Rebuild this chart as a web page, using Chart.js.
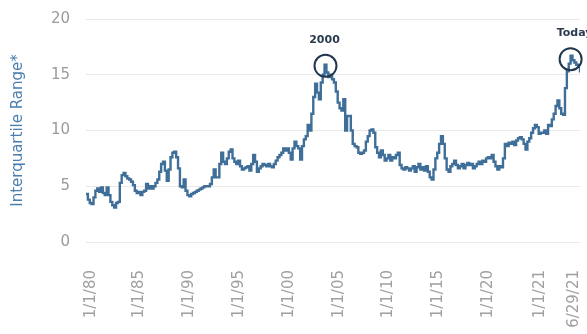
<!DOCTYPE html>
<html><head><meta charset="utf-8">
<script src="https://cdn.jsdelivr.net/npm/chart.js@4.4.1/dist/chart.umd.min.js"></script>
<style>html,body{margin:0;padding:0;background:#fff;}#wrap{width:587px;height:334px;}</style>
</head><body><div id="wrap"><canvas id="c" width="587" height="334"></canvas></div>
<script>
// Interquartile range series, evenly spaced samples from late 1979 to end of June 2021
const values = [
4.3,3.8,3.5,3.4,4.0,4.6,4.8,4.5,4.9,4.4,4.2,4.9,4.2,3.6,3.3,3.1,3.5,3.6,5.3,6.0,
6.2,5.9,5.7,5.6,5.4,5.1,4.6,4.4,4.5,4.2,4.5,4.6,5.2,4.8,5.0,4.8,5.0,5.3,5.6,6.3,
7.0,7.2,6.4,5.5,6.5,7.6,8.0,8.1,7.6,6.6,5.0,4.9,5.6,4.6,4.2,4.1,4.3,4.4,4.5,4.6,
4.7,4.8,4.9,5.0,5.0,5.0,5.2,5.8,6.5,5.8,5.8,7.0,8.0,7.2,7.0,7.5,8.1,8.3,7.5,7.2,
7.0,7.3,6.8,6.5,6.6,6.7,6.8,6.4,7.0,7.8,7.2,6.3,6.6,6.8,7.0,6.9,6.8,7.0,6.8,6.7,
7.0,7.3,7.6,7.8,8.0,8.4,8.2,8.4,8.0,7.4,8.4,9.0,8.6,8.4,7.4,8.6,9.2,9.5,10.5,10.0,
11.5,13.0,14.2,13.4,12.8,14.3,15.0,15.9,15.2,14.8,15.0,14.6,14.3,13.5,12.5,12.0,11.8,12.8,10.0,11.3,
11.3,10.0,8.8,8.6,8.5,8.0,7.9,8.0,8.2,9.0,9.5,10.0,10.1,9.8,8.5,8.0,7.6,8.2,7.8,7.3,
7.5,7.8,7.3,7.6,7.5,7.8,8.0,6.9,6.6,6.5,6.7,6.6,6.4,6.6,6.8,6.3,6.7,7.0,6.5,6.7,
6.4,6.8,6.3,5.8,5.6,6.5,7.5,8.0,8.8,9.5,8.8,7.5,6.5,6.3,6.8,7.0,7.3,6.9,6.6,6.8,
7.0,6.6,6.9,7.1,6.9,7.0,6.6,6.8,7.0,7.2,7.0,7.3,7.2,7.5,7.6,7.5,7.8,7.2,6.8,6.5,
6.8,6.7,7.5,8.8,8.6,8.9,8.8,9.0,8.7,9.1,9.3,9.4,9.2,8.8,8.3,9.0,9.3,9.8,10.2,10.5,
10.3,9.7,9.8,9.8,10.0,9.7,10.5,10.4,11.0,11.5,12.2,12.7,12.0,11.5,11.4,13.8,15.3,16.0,16.7,16.3,
16.1,15.9,15.8,15.2
];
// tick labels and the sample index where each sits
const tickLabels = ['1/1/80','1/1/85','1/1/90','1/1/95','1/1/00','1/1/05','1/1/10','1/1/15','1/1/20','1/1/21','6/29/21'];
const tickIndex  = [2.5, 28.5, 55, 81.5, 108, 134.5, 161, 187.5, 214, 242, 260];
const yTicks = [0,5,10,15,20];
// annotations: label, sample index, value of circle centre
const notes = [
  {label:'2000',  index:127.5, value:15.8},
  {label:'Today', index:258, value:16.4}
];

const points = values.map((v,i)=>({x:i,y:v}));
const FONT = "'DejaVu Sans', sans-serif";

const notePlugin = {
  id:'notes',
  afterDatasetsDraw(chart){
    const {ctx, scales:{x,y}} = chart;
    ctx.save();
    notes.forEach((n,k)=>{
      const cx = x.getPixelForValue(n.index), cy = y.getPixelForValue(n.value);
      ctx.beginPath();
      ctx.arc(cx, cy, 11, 0, Math.PI*2);
      ctx.strokeStyle = '#22364d';
      ctx.lineWidth = 2;
      ctx.stroke();
      ctx.fillStyle = '#2a3a4e';
      ctx.font = "bold 11px " + FONT;
      ctx.textAlign = 'center';
      ctx.textBaseline = 'middle';
      ctx.fillText(n.label, cx + (k === 1 ? 4 : -1), cy - 26);
    });
    ctx.restore();
  }
};

new Chart(document.getElementById('c'), {
  type:'line',
  data:{datasets:[{data:points, borderColor:'#3f6e98', borderWidth:2.4, pointRadius:0, stepped:true, tension:0}]},
  options:{
    responsive:false, animation:false,
    layout:{padding:{top:19, right:7, left:0, bottom:0}},
    plugins:{legend:{display:false}, tooltip:{enabled:false}},
    scales:{
      x:{type:'linear', min:0, max:values.length-1,
        grid:{display:false}, border:{display:false},
        afterBuildTicks(s){ s.ticks = tickIndex.map(v=>({value:v})); },
        afterFit(s){ s.height = 92; s.paddingLeft = 0; s.paddingRight = 0; s.paddingTop = 0; s.paddingBottom = 0; },
        ticks:{autoSkip:false, minRotation:90, maxRotation:90, padding:20,
          color:'#a0a0a0', font:{family:FONT, size:15},
          callback(v,i){ return tickLabels[i]; }}
      },
      y:{min:0, max:20,
        afterBuildTicks(s){ s.ticks = yTicks.map(v=>({value:v})); },
        afterFit(s){ s.width = 86; s.paddingTop = 0; s.paddingBottom = 0; },
        grid:{color:'#e9e9e9', drawTicks:false, lineWidth:1}, border:{display:false},
        ticks:{padding:16, color:'#9b9b9b', font:{family:FONT, size:15}},
        title:{display:true, text:'Interquartile Range*', color:'#4a7eae', font:{family:FONT, size:15}, padding:{top:9,bottom:0}}
      }
    }
  },
  plugins:[notePlugin]
});
</script></body></html>
